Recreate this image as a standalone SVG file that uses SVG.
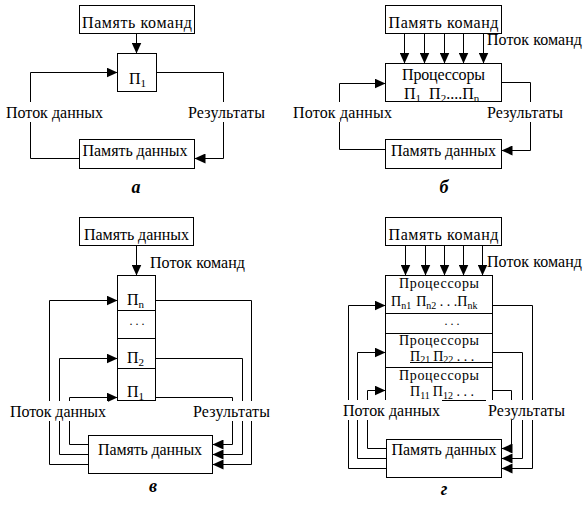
<svg xmlns="http://www.w3.org/2000/svg" width="588" height="509" viewBox="0 0 588 509">
<style>
.box{fill:#fff;stroke:#000;stroke-width:1}
.ln{fill:none;stroke:#000;stroke-width:1}
.t{font-family:"Liberation Serif","Times New Roman",serif;font-size:16px;fill:#000}
.m{text-anchor:middle}
.s{font-size:11px}
.c{font-size:14px}
.cs{font-size:10px}
.bg{fill:#fff}
.cap{font-family:"Liberation Serif","Times New Roman",serif;font-size:18px;font-weight:bold;font-style:italic;text-anchor:middle}
.dots{font-family:"Liberation Serif",serif;font-size:12px;text-anchor:middle}
</style>
<defs>
<marker id="ah" markerUnits="userSpaceOnUse" markerWidth="12" markerHeight="10" refX="11" refY="5" orient="auto"><path d="M0,0 L11,5 L0,10 z" fill="#000"/></marker>
</defs>
<rect width="588" height="509" fill="#fff"/>

<g id="connectors" class="ln" marker-end="url(#ah)">
<!-- a -->
<path d="M136.5,33.5 V53.5"/>
<path d="M79.5,158.5 H30.5 V72.5 H117.5"/>
<path d="M156.5,72.5 H223.5 V158.5 H194.5"/>
<!-- б -->
<path d="M404.5,33.5 V63.5"/>
<path d="M424.5,33.5 V63.5"/>
<path d="M444.5,33.5 V63.5"/>
<path d="M463.5,33.5 V63.5"/>
<path d="M483.5,33.5 V63.5"/>
<path d="M385.5,149.5 H339.5 V83.5 H385.5"/>
<path d="M501.5,82.5 H530.5 V150.5 H501.5"/>
<!-- в -->
<path d="M136.5,245.5 V275.5"/>
<path d="M88.5,464.5 H49.5 V300.5 H117.5"/>
<path d="M88.5,454.5 H59.5 V358.5 H117.5"/>
<path d="M88.5,444.5 H69.5 V397.5 H117.5"/>
<path d="M155.5,300.5 H251.5 V464.5 H212.5"/>
<path d="M155.5,358.5 H242.5 V454.5 H212.5"/>
<path d="M155.5,397.5 H232.5 V444.5 H212.5"/>
<!-- г -->
<path d="M405.5,245.5 V275.5"/>
<path d="M425.5,245.5 V275.5"/>
<path d="M444.5,245.5 V275.5"/>
<path d="M463.5,245.5 V275.5"/>
<path d="M482.5,245.5 V275.5"/>
<path d="M386.5,468.5 H348.5 V305.5 H385.5"/>
<path d="M386.5,458.5 H357.5 V352.5 H385.5"/>
<path d="M386.5,448.5 H367.5 V390.5 H385.5"/>
<path d="M492.5,305.5 H532.5 V468.5 H501.5"/>
<path d="M492.5,352.5 H522.5 V458.5 H501.5"/>
<path d="M492.5,390.5 H511.5 V448.5 H501.5"/>
</g>

<!-- Panel a -->
<g id="a-cmd"><rect class="box" x="79.5" y="5.5" width="115" height="28"/><text class="t m" x="137" y="28" textLength="110">Память команд</text></g>
<g id="a-p1"><rect class="box" x="117.5" y="53.5" width="39" height="38"/><text class="t" x="129" y="84">П<tspan class="s" dy="3">1</tspan></text></g>
<g id="a-data"><rect class="box" x="79.5" y="139.5" width="115" height="29"/><text class="t m" x="135" y="156" textLength="105">Память данных</text></g>
<g id="a-lbl1"><rect class="bg" x="4" y="102" width="101" height="20"/><text class="t" x="6" y="118" textLength="97">Поток данных</text></g>
<g id="a-lbl2"><rect class="bg" x="186" y="102" width="81" height="20"/><text class="t" x="188" y="118" textLength="77">Результаты</text></g>
<text class="cap" x="136" y="193">а</text>

<!-- Panel б -->
<g id="b-cmd"><rect class="box" x="385.5" y="5.5" width="116" height="28"/><text class="t m" x="443.5" y="28" textLength="110">Память команд</text></g>
<g id="b-lbl0"><text class="t" x="487" y="45" textLength="95">Поток команд</text></g>
<g id="b-proc"><rect class="box" x="385.5" y="63.5" width="116" height="38"/><text class="t m" x="443.5" y="80" textLength="83">Процессоры</text><text class="t" x="404" y="99">П<tspan class="s" dy="3">1</tspan><tspan dy="-3" dx="8">П</tspan><tspan class="s" dy="3">2</tspan><tspan dy="-3">....</tspan>П<tspan class="s" dy="3">n</tspan></text></g>
<g id="b-data"><rect class="box" x="385.5" y="139.5" width="116" height="29"/><text class="t m" x="443.5" y="156" textLength="105">Память данных</text></g>
<g id="b-lbl1"><rect class="bg" x="291" y="102" width="103" height="20"/><text class="t" x="293" y="118" textLength="99">Поток данных</text></g>
<g id="b-lbl2"><rect class="bg" x="485" y="102" width="80" height="20"/><text class="t" x="487" y="118" textLength="76">Результаты</text></g>
<text class="cap" x="444" y="193">б</text>

<!-- Panel в -->
<g id="c-data-top"><rect class="box" x="79.5" y="217.5" width="114" height="28"/><text class="t m" x="136.5" y="240" textLength="105">Память данных</text></g>
<g id="c-lbl0"><text class="t" x="150" y="268" textLength="95">Поток команд</text></g>
<g id="c-proc">
<rect class="box" x="117.5" y="275.5" width="38" height="125"/>
<path class="ln" d="M117.5,310.5 H155.5 M117.5,338.5 H155.5 M117.5,368.5 H155.5"/>
<text class="t" x="127" y="305">П<tspan class="s" dy="3">n</tspan></text>
<text class="dots" x="137" y="325">. . .</text>
<text class="t" x="127" y="363">П<tspan class="s" dy="3">2</tspan></text>
<text class="t" x="127" y="397">П<tspan class="s" dy="3">1</tspan></text>
</g>
<g id="c-data"><rect class="box" x="88.5" y="435.5" width="124" height="38"/><text class="t m" x="150" y="455" textLength="104">Память данных</text></g>
<g id="c-lbl1"><rect class="bg" x="8" y="401" width="100" height="20"/><text class="t" x="10" y="417" textLength="96">Поток данных</text></g>
<g id="c-lbl2"><rect class="bg" x="191" y="401" width="81" height="20"/><text class="t" x="193" y="417" textLength="77">Результаты</text></g>
<text class="cap" x="153" y="492">в</text>

<!-- Panel г -->
<g id="d-cmd"><rect class="box" x="385.5" y="217.5" width="116" height="28"/><text class="t m" x="443.5" y="240" textLength="110">Память команд</text></g>
<g id="d-lbl0"><text class="t" x="487" y="267" textLength="95">Поток команд</text></g>
<g id="d-proc">
<rect class="box" x="385.5" y="275.5" width="107" height="125"/>
<path class="ln" d="M385.5,313.5 H492.5 M385.5,333.5 H492.5 M385.5,367.5 H492.5 M410,362.5 H492.5"/>
<text class="t c m" x="439" y="288" textLength="80">Процессоры</text>
<text class="t c" x="391" y="306">П<tspan class="cs" dy="3">n1</tspan><tspan dy="-3" dx="5">П</tspan><tspan class="cs" dy="3">n2</tspan><tspan dy="-3"> . . .</tspan>П<tspan class="cs" dy="3">nk</tspan></text>
<text class="dots" x="452" y="325">. . .</text>
<text class="t c m" x="439" y="345" textLength="80">Процессоры</text>
<text class="t c" x="410" y="361">П<tspan class="cs" dy="2">21</tspan><tspan dy="-2" dx="3">П</tspan><tspan class="cs" dy="2">22</tspan><tspan dy="-2"> . . .</tspan></text>
<text class="t c m" x="439" y="380" textLength="80">Процессоры</text>
<text class="t c" x="410" y="396">П<tspan class="cs" dy="3">11</tspan><tspan dy="-3" dx="3">П</tspan><tspan class="cs" dy="3">12</tspan><tspan dy="-3"> . . .</tspan></text>
</g>
<g id="d-data"><rect class="box" x="386.5" y="439.5" width="115" height="38"/><text class="t m" x="444" y="455" textLength="105">Память данных</text></g>
<g id="d-lbl1"><rect class="bg" x="341" y="400" width="101" height="20"/><text class="t" x="343" y="416" textLength="97">Поток данных</text></g>
<g id="d-lbl2"><rect class="bg" x="486" y="400" width="81" height="20"/><text class="t" x="488" y="416" textLength="77">Результаты</text></g>
<text class="cap" x="444" y="495">г</text>
</svg>
